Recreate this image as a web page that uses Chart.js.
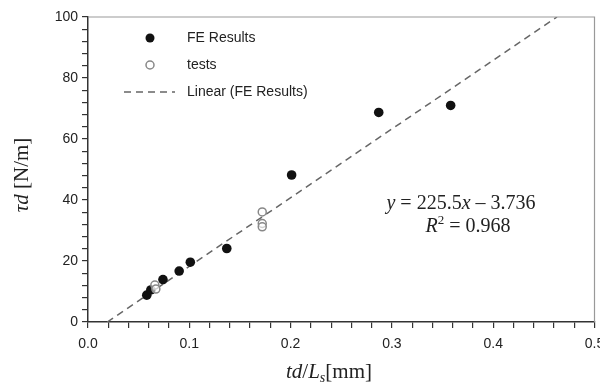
<!DOCTYPE html>
<html>
<head>
<meta charset="utf-8">
<script src="https://cdn.jsdelivr.net/npm/chart.js@4.4.1/dist/chart.umd.min.js"></script>
<style>
  html, body { margin: 0; padding: 0; background: #fff; }
  #wrap { width: 600px; height: 391px; position: relative; }
  #chart { display: block; }
</style>
</head>
<body>
<div id="wrap"><canvas id="chart" width="600" height="391"></canvas></div>
<script>
'use strict';

// ── 데이터 ─────────────────────────────────────────────
var feX = [0.058, 0.062, 0.074, 0.090, 0.101, 0.137, 0.201, 0.287, 0.358];
var feY = [8.8, 10.5, 13.9, 16.7, 19.6, 24.1, 48.2, 68.7, 71.0];

var testX = [0.066, 0.067, 0.172, 0.172, 0.172];
var testY = [12.1, 10.8, 36.1, 32.3, 31.2];

var fitX = [0.019, 0.463];
var fitY = [0, 100];

var xMin = 0, xMax = 0.5, xStep = 0.02;
var yMin = 0, yMax = 100, yStep = 4;

function toPoints(xs, ys) {
  return xs.map(function (x, i) { return { x: x, y: ys[i] }; });
}

var SANS = '"Liberation Sans", Arial, sans-serif';
var SERIF = '"Liberation Serif", "Times New Roman", serif';

// ── 범례·제목·수식 ─────────────────────────────────────
var decorPlugin = {
  id: 'decor',
  afterDraw: function (chart) {
    var ctx = chart.ctx;
    var a = chart.chartArea;
    ctx.save();

    // top / right frame
    ctx.strokeStyle = '#999';
    ctx.lineWidth = 1.2;
    ctx.beginPath();
    ctx.moveTo(a.left, a.top);
    ctx.lineTo(a.right, a.top);
    ctx.lineTo(a.right, a.bottom);
    ctx.stroke();

    // legend
    ctx.fillStyle = '#111';
    ctx.beginPath(); ctx.arc(150, 38, 4.5, 0, Math.PI * 2); ctx.fill();
    ctx.fillStyle = '#fff';
    ctx.strokeStyle = '#888';
    ctx.lineWidth = 1.5;
    ctx.beginPath(); ctx.arc(150, 65, 4, 0, Math.PI * 2); ctx.fill(); ctx.stroke();
    ctx.strokeStyle = '#666';
    ctx.setLineDash([7, 5]);
    ctx.beginPath(); ctx.moveTo(124, 92); ctx.lineTo(175, 92); ctx.stroke();
    ctx.setLineDash([]);

    ctx.fillStyle = '#222';
    ctx.font = '14px ' + SANS;
    ctx.textBaseline = 'middle';
    ctx.textAlign = 'left';
    ctx.fillText('FE Results', 187, 38);
    ctx.fillText('tests', 187, 65);
    ctx.fillText('Linear (FE Results)', 187, 92);

    // equation
    drawRuns(ctx, 461, 204, [
      { t: 'y', i: true }, { t: ' = 225.5' }, { t: 'x', i: true }, { t: ' \u2013 3.736' }
    ], 20);
    drawRuns(ctx, 468, 227, [
      { t: 'R', i: true }, { t: '2', sup: true }, { t: ' = 0.968' }
    ], 20);

    // x title
    drawRuns(ctx, 329, 372, [
      { t: 'td', i: true }, { t: '/' }, { t: 'L', i: true }, { t: 's', i: true, sub: true }, { t: '[mm]' }
    ], 21);

    // y title
    ctx.translate(22, 175);
    ctx.rotate(-Math.PI / 2);
    drawRuns(ctx, 0, 0, [
      { t: '\u03c4d', i: true }, { t: ' [N/m]' }
    ], 21);

    ctx.restore();
  }
};

function runFont(r, size) {
  var s = (r.sup || r.sub) ? Math.round(size * 0.65) : size;
  return (r.i ? 'italic ' : '') + s + 'px ' + SERIF;
}

// centred run of mixed italic / upright text
function drawRuns(ctx, cx, cy, runs, size) {
  ctx.save();
  ctx.textBaseline = 'middle';
  ctx.textAlign = 'left';
  ctx.fillStyle = '#222';
  var total = 0;
  runs.forEach(function (r) { ctx.font = runFont(r, size); total += ctx.measureText(r.t).width; });
  var x = cx - total / 2;
  runs.forEach(function (r) {
    ctx.font = runFont(r, size);
    var dy = r.sup ? -size * 0.3 : (r.sub ? size * 0.3 : 0);
    ctx.fillText(r.t, x, cy + dy);
    x += ctx.measureText(r.t).width;
  });
  ctx.restore();
}

// ── 차트 ───────────────────────────────────────────────
new Chart(document.getElementById('chart').getContext('2d'), {
  type: 'scatter',
  data: {
    datasets: [
      {
        label: 'FE Results',
        data: toPoints(feX, feY),
        pointRadius: 4.8,
        pointBackgroundColor: '#111',
        pointBorderColor: '#111',
        pointBorderWidth: 0,
        order: 1
      },
      {
        label: 'tests',
        data: toPoints(testX, testY),
        pointRadius: 4,
        pointBackgroundColor: 'rgba(255,255,255,0.6)',
        pointBorderColor: '#888',
        pointBorderWidth: 1.5,
        order: 0
      },
      {
        label: 'Linear (FE Results)',
        data: toPoints(fitX, fitY),
        showLine: true,
        pointRadius: 0,
        borderColor: '#666',
        borderWidth: 1.5,
        borderDash: [7, 5],
        order: 3
      }
    ]
  },
  options: {
    responsive: false,
    animation: false,
    devicePixelRatio: 1,
    layout: { padding: { top: 17, right: 3, left: 0, bottom: 0 } },
    plugins: { legend: { display: false }, tooltip: { enabled: false } },
    scales: {
      x: {
        type: 'linear',
        min: xMin, max: xMax,
        afterFit: function (s) { s.height = 69; s.paddingRight = 0; s.paddingLeft = 0; },
        ticks: {
          stepSize: xStep,
          autoSkip: false,
          maxRotation: 0,
          padding: 8,
          color: '#222',
          font: { family: SANS, size: 14 },
          callback: function (v) {
            var k = v * 10;
            return Math.abs(k - Math.round(k)) < 1e-6 ? (Math.round(k) / 10).toFixed(1) : '';
          }
        },
        grid: { drawOnChartArea: false, drawTicks: true, tickLength: 6, color: '#333', lineWidth: 1.2 },
        border: { display: true, color: '#333', width: 1.5 }
      },
      y: {
        min: yMin, max: yMax,
        afterFit: function (s) { s.width = 88; s.paddingTop = 0; },
        ticks: {
          stepSize: yStep,
          autoSkip: false,
          padding: 4,
          color: '#222',
          font: { family: SANS, size: 14 },
          callback: function (v) { return Math.round(v) % 20 === 0 ? String(Math.round(v)) : ''; }
        },
        grid: { drawOnChartArea: false, drawTicks: true, tickLength: 6, color: '#333', lineWidth: 1.2 },
        border: { display: true, color: '#333', width: 1.5 }
      }
    }
  },
  plugins: [decorPlugin]
});
</script>
</body>
</html>
